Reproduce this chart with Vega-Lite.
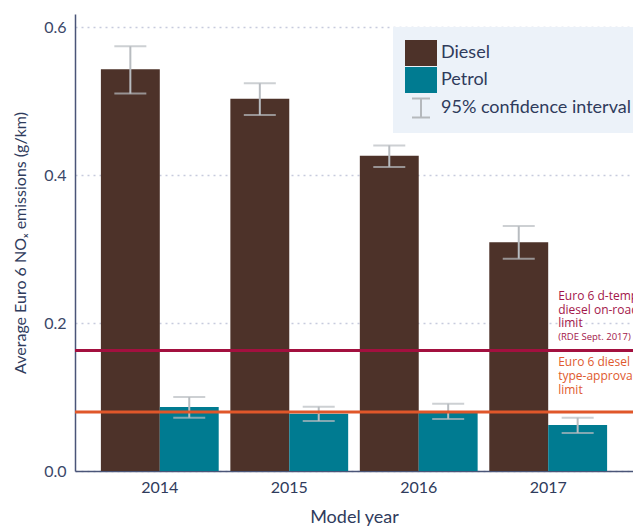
{
  "$schema": "https://vega.github.io/schema/vega-lite/v6.json",
  "autosize": {"type": "none"},
  "padding": {"left": 75, "top": 14, "right": 0, "bottom": 55},
  "width": 558,
  "height": 457,
  "background": "white",
  "config": {
    "font": "Lato",
    "view": {"stroke": null},
    "axis": {"labelFont": "Lato", "titleFont": "Lato", "titleFontWeight": "normal"}
  },
  "data": {
    "values": [
      {"year": "2014", "fuel": "Diesel", "value": 0.543, "lo": 0.510, "hi": 0.574},
      {"year": "2014", "fuel": "Petrol", "value": 0.0865, "lo": 0.072, "hi": 0.100},
      {"year": "2015", "fuel": "Diesel", "value": 0.503, "lo": 0.481, "hi": 0.524},
      {"year": "2015", "fuel": "Petrol", "value": 0.0774, "lo": 0.0676, "hi": 0.0869},
      {"year": "2016", "fuel": "Diesel", "value": 0.426, "lo": 0.411, "hi": 0.440},
      {"year": "2016", "fuel": "Petrol", "value": 0.080, "lo": 0.0703, "hi": 0.091},
      {"year": "2017", "fuel": "Diesel", "value": 0.309, "lo": 0.287, "hi": 0.331},
      {"year": "2017", "fuel": "Petrol", "value": 0.062, "lo": 0.0514, "hi": 0.072}
    ]
  },
  "encoding": {
    "x": {
      "field": "year",
      "type": "nominal",
      "scale": {"paddingInner": 0.09, "paddingOuter": 0.2},
      "axis": {
        "title": "Model year",
        "labelAngle": 0,
        "labelFontSize": 16,
        "labelColor": "#2f3b5c",
        "labelPadding": 8,
        "ticks": false,
        "domainColor": "#4a5578",
        "domainWidth": 1.5,
        "titleFontSize": 18,
        "titleColor": "#2f3b5c",
        "titlePadding": 13
      }
    },
    "xOffset": {"field": "fuel", "type": "nominal"}
  },
  "layer": [
    {
      "mark": {"type": "bar"},
      "encoding": {
        "y": {
          "field": "value",
          "type": "quantitative",
          "scale": {"domain": [0, 0.6176], "nice": false, "zero": true},
          "axis": {
            "title": "Average Euro 6 NOₓ emissions (g/km)",
            "values": [0, 0.2, 0.4, 0.6],
            "format": ".1f",
            "labelFontSize": 16,
            "labelColor": "#3a4768",
            "labelPadding": 9,
            "ticks": false,
            "domainColor": "#4a5578",
            "domainWidth": 1.5,
            "grid": true,
            "gridDash": [2, 4],
            "gridColor": "#c7cbdd",
            "gridWidth": 1.5,
            "titleFontSize": 16,
            "titleColor": "#2f3b5c",
            "titlePadding": 15
          }
        },
        "color": {
          "field": "fuel",
          "type": "nominal",
          "scale": {
            "domain": ["Diesel", "Petrol", "95% confidence interval"],
            "range": ["#4d3229", "#007b91", "#b5b9bd"]
          },
          "legend": {
            "title": " ",
            "titleFontSize": 6,
            "titlePadding": 0,
            "orient": "none",
            "legendX": 318,
            "legendY": 13,
            "fillColor": "#ecf2f9",
            "padding": 11,
            "symbolSize": 1024,
            "symbolOffset": 8,
            "labelFontSize": 18,
            "labelColor": "#2f3b5c",
            "labelOffset": 11,
            "rowPadding": 1,
            "labelLimit": 300,
            "encode": {
              "symbols": {
                "update": {
                  "shape": {"signal": "datum.label === '95% confidence interval' ? 'M-0.5625,-0.6H0.5625M0,-0.6V0.6M-0.5625,0.6H0.5625' : 'M-1,-0.8125H1V0.8125H-1Z'"},
                  "stroke": {"value": "#b5b9bd"},
                  "strokeWidth": {"signal": "datum.label === '95% confidence interval' ? 2 : 0"}
                }
              }
            }
          }
        }
      }
    },
    {
      "mark": {"type": "rule", "color": "#b8bcc0", "strokeWidth": 2},
      "encoding": {
        "y": {"field": "lo", "type": "quantitative"},
        "y2": {"field": "hi"}
      }
    },
    {
      "mark": {"type": "tick", "color": "#b8bcc0", "thickness": 2, "size": 32},
      "encoding": {"y": {"field": "lo", "type": "quantitative"}}
    },
    {
      "mark": {"type": "tick", "color": "#b8bcc0", "thickness": 2, "size": 32},
      "encoding": {"y": {"field": "hi", "type": "quantitative"}}
    },
    {
      "data": {"values": [{"limit": "Euro 6 d-temp diesel on-road limit", "v": 0.163}]},
      "mark": {"type": "rule", "color": "#a3103f", "strokeWidth": 3},
      "encoding": {"x": null, "xOffset": null, "y": {"field": "v", "type": "quantitative"}}
    },
    {
      "data": {"values": [{"limit": "Euro 6 diesel type-approval limit", "v": 0.0797}]},
      "mark": {"type": "rule", "color": "#e0572a", "strokeWidth": 3},
      "encoding": {"x": null, "xOffset": null, "y": {"field": "v", "type": "quantitative"}}
    },
    {
      "data": {"values": [{"t": ["Euro 6 d-temp", "diesel on-road", "limit"]}]},
      "mark": {"type": "text", "font": "Open Sans", "align": "left", "baseline": "middle", "dx": 10, "fontSize": 12, "lineHeight": 13.7, "color": "#a3164a"},
      "encoding": {"x": {"datum": "2017"}, "xOffset": null, "y": {"datum": 0.2365}, "text": {"field": "t"}}
    },
    {
      "data": {"values": [{"t": "(RDE Sept. 2017)"}]},
      "mark": {"type": "text", "font": "Open Sans", "align": "left", "baseline": "middle", "dx": 10, "fontSize": 9.5, "color": "#a3164a"},
      "encoding": {"x": {"datum": "2017"}, "xOffset": null, "y": {"datum": 0.1807}, "text": {"field": "t"}}
    },
    {
      "data": {"values": [{"t": ["Euro 6 diesel", "type-approval", "limit"]}]},
      "mark": {"type": "text", "font": "Open Sans", "align": "left", "baseline": "middle", "dx": 10, "fontSize": 12, "lineHeight": 14, "color": "#e05a2e"},
      "encoding": {"x": {"datum": "2017"}, "xOffset": null, "y": {"datum": 0.1477}, "text": {"field": "t"}}
    }
  ]
}
